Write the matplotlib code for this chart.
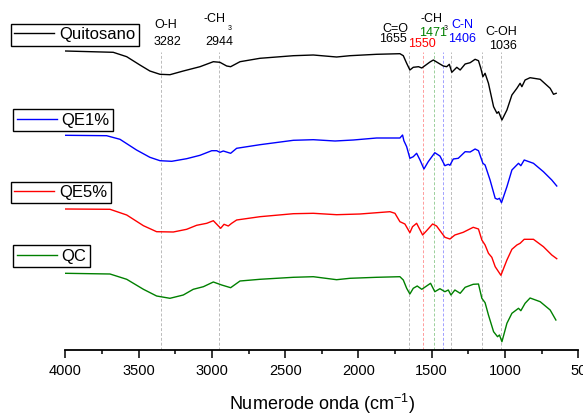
import matplotlib
matplotlib.use("Agg")
import matplotlib.pyplot as plt
from matplotlib.lines import Line2D

plt.rcParams['font.family'] = ['Liberation Sans', 'DejaVu Sans']
plt.rcParams['mathtext.fontset'] = 'custom'
plt.rcParams['mathtext.rm'] = 'Liberation Sans'
plt.rcParams['mathtext.it'] = 'Liberation Sans:italic'

# espectros FTIR (numero de onda, transmitancia desplazada en u.a.)
wn_quitosano = [4000, 3673, 3581, 3491, 3423, 3354, 3286, 3195, 3081, 2990, 2945, 2899, 2872,
                2808, 2672, 2444, 2308, 2149, 2058, 1876, 1717, 1694, 1671, 1649, 1626, 1590,
                1568, 1512, 1489, 1444, 1421, 1398, 1380, 1363, 1329, 1306, 1272, 1238, 1204,
                1181, 1165, 1151, 1136, 1113, 1078, 1055, 1044, 1021, 987, 953, 919, 897, 885,
                863, 829, 760, 692, 669, 651]
t_quitosano = [299, 297.7, 293.3, 285, 279, 275.7, 275.3, 279, 283.3, 288.3, 287.7, 284, 283.3,
               288.3, 291.7, 294.3, 295, 293, 294.3, 295.7, 296.3, 294.3, 286.7, 280, 282.7, 283.3,
               282, 288, 290, 286, 284, 283.3, 285.7, 277.7, 282.7, 280, 286, 287.3, 290.7,
               289.3, 281.7, 273.3, 276.7, 266.7, 243.3, 236.7, 238.3, 230, 240, 255, 261.7, 266.7, 263.3,
               270, 272.3, 270.7, 261.7, 255.7, 256.7]

wn_qe1 = [4000, 3718, 3627, 3514, 3423, 3354, 3274, 3172, 3081, 3001, 2967, 2945, 2922, 2872,
          2831, 2672, 2444, 2308, 2160, 2035, 1876, 1717, 1699, 1690, 1671, 1649, 1626, 1603,
          1580, 1553, 1524, 1479, 1444, 1410, 1387, 1376, 1353, 1319, 1272, 1238, 1204, 1181,
          1151, 1136, 1102, 1067, 1051, 1038, 1024, 987, 953, 908, 892, 869, 806, 738, 681, 647]
t_qe1 = [214.7, 214.3, 210.7, 200, 192.7, 189.3, 188.7, 191.3, 194.7, 199.3, 199.3, 197.7, 199, 196.7,
         201.7, 205.3, 209.7, 210.3, 209, 210, 212, 212, 215, 209.3, 203.3, 191.7, 193.3, 196.7,
         190, 181, 188.3, 197.3, 194, 184.3, 185.7, 184.7, 191, 191.7, 198.3, 198, 201, 199.3,
         186.7, 185, 170, 151.7, 150.7, 151.7, 147.3, 163.3, 180, 186.7, 184.3, 190, 186.7, 178.3, 170, 164]

wn_qe5 = [4000, 3695, 3581, 3467, 3377, 3263, 3172, 3104, 3035, 2990, 2940, 2917, 2888, 2865,
          2831, 2672, 2444, 2308, 2149, 1990, 1785, 1751, 1717, 1683, 1649, 1631, 1603, 1562,
          1535, 1494, 1467, 1410, 1376, 1342, 1285, 1217, 1181, 1158, 1136, 1113, 1090, 1067,
          1028, 987, 953, 919, 897, 869, 806, 738, 681, 647]
t_qe5 = [141, 140.7, 135, 124.3, 118.3, 118, 120.7, 124.7, 126.7, 129.3, 121.7, 125.7, 124, 126.7,
         130, 133.3, 136.3, 136.7, 135.3, 136, 138.3, 136.7, 128.3, 126, 117.3, 123.3, 126.7, 115,
         119.3, 126, 124, 112.7, 111, 115, 117.7, 122.7, 121, 110, 105, 96.7, 92.7, 83.3,
         74.7, 90, 100.7, 105, 106.7, 110.7, 110.7, 103.3, 95, 91.3]

wn_qc = [4000, 3695, 3581, 3467, 3377, 3286, 3195, 3127, 3058, 2990, 2933, 2872, 2808, 2672,
         2444, 2308, 2149, 2058, 1876, 1717, 1694, 1671, 1649, 1626, 1599, 1568, 1535, 1508,
         1479, 1444, 1410, 1387, 1369, 1342, 1306, 1272, 1217, 1181, 1158, 1136, 1113, 1078,
         1051, 1038, 1021, 987, 953, 908, 892, 863, 829, 760, 692, 653]
t_qc = [76.7, 76, 70.7, 60.7, 54, 51.7, 55, 60.7, 63.3, 68, 65, 62.3, 69, 70.7,
        72.7, 73.3, 70.3, 71.7, 72.7, 73.3, 70, 61.7, 56, 61.7, 64, 60.7, 64, 66.7,
        58.3, 61.3, 58.3, 60, 55, 60, 56.7, 62.7, 65.7, 66, 51.7, 47.3, 35, 18.3,
        13.3, 15, 8.3, 26.7, 36.7, 41.7, 39.3, 46.7, 52, 48.3, 40, 30]

series = [("Quitosano", wn_quitosano, t_quitosano, "black"),
          ("QE1%", wn_qe1, t_qe1, "blue"),
          ("QE5%", wn_qe5, t_qe5, "red"),
          ("QC", wn_qc, t_qc, "green")]

# bandas marcadas
bandas = [3347, 2950, 1653, 1562, 1485, 1422, 1371, 1157, 1028]
bandas_color = ["#bbbbbb", "#bbbbbb", "#bbbbbb", "#ff9b9b", "#9bd09b",
                "#a0a0ff", "#bbbbbb", "#bbbbbb", "#bbbbbb"]

W, H = 583, 416
fig = plt.figure(figsize=(W / 100, H / 100), dpi=100)
ax = fig.add_axes([65.3 / W, 1 - 350 / H, (578.3 - 65.3) / W, 350 / H])

for b, c in zip(bandas, bandas_color):
    ax.plot([b, b], [0, 298], color=c, lw=0.7, ls=(0, (3, 2)), zorder=1)

for nombre, wn, t, c in series:
    ax.plot(wn, t, color=c, lw=1.0, zorder=2)

ax.set_xlim(4000, 500)
ax.set_ylim(0, 350)
ax.set_xticks([4000, 3500, 3000, 2500, 2000, 1500, 1000, 500])
ax.set_xticklabels(["4000", "3500", "3000", "2500", "2000", "1500", "1000", "50"])
ax.set_xticks(range(3750, 500, -500), minor=True)
ax.tick_params(axis='x', which='major', length=6, width=1.1, labelsize=10.5, pad=4)
ax.tick_params(axis='x', which='minor', length=3, width=1.1)
ax.set_yticks([])
for s in ["left", "right", "top"]:
    ax.spines[s].set_visible(False)
ax.spines["bottom"].set_linewidth(1.3)
ax.set_xlabel("Numerode onda (cm$^{-1}$)", fontsize=13, labelpad=10)

# etiquetas de las bandas
etiquetas = [("O-H", 3313, 325, "black"), ("3282", 3304, 308, "black"),
             ("-CH", 2979, 331, "black"), ("2944", 2951, 308, "black"),
             ("C=O", 1750, 321, "black"), ("1655", 1762, 311, "black"),
             ("1550", 1568, 306, "red"), ("-CH", 1500, 331, "black"),
             ("1471", 1488, 317, "green"), ("C-N", 1291, 325, "blue"),
             ("1406", 1291, 311, "blue"), ("C-OH", 1027, 318, "black"),
             ("1036", 1016, 304, "black")]
for txt, x, y, c in etiquetas:
    ax.text(x, y, txt, color=c, fontsize=9, ha="center", va="center")
ax.text(2876, 321, "3", fontsize=5, ha="center", va="center")
ax.text(1405, 321.7, "3", fontsize=5, ha="center", va="center")

# leyendas separadas con caja
cajas = [(11, 34.7), (13.3, 120), (11, 192.5), (13.3, 256)]
for (nombre, wn, t, c), (x0, yc) in zip(series, cajas):
    leg = fig.legend(handles=[Line2D([], [], color=c, lw=1.0)], labels=[nombre],
                     loc="center left", bbox_to_anchor=(x0 / W, 1 - yc / H),
                     fontsize=12, frameon=True, fancybox=False, edgecolor="black",
                     framealpha=1, handlelength=2.4, handletextpad=0.3,
                     borderpad=0.2, borderaxespad=0)
    leg.get_frame().set_linewidth(1.0)

plt.savefig("out.png", dpi=100)
